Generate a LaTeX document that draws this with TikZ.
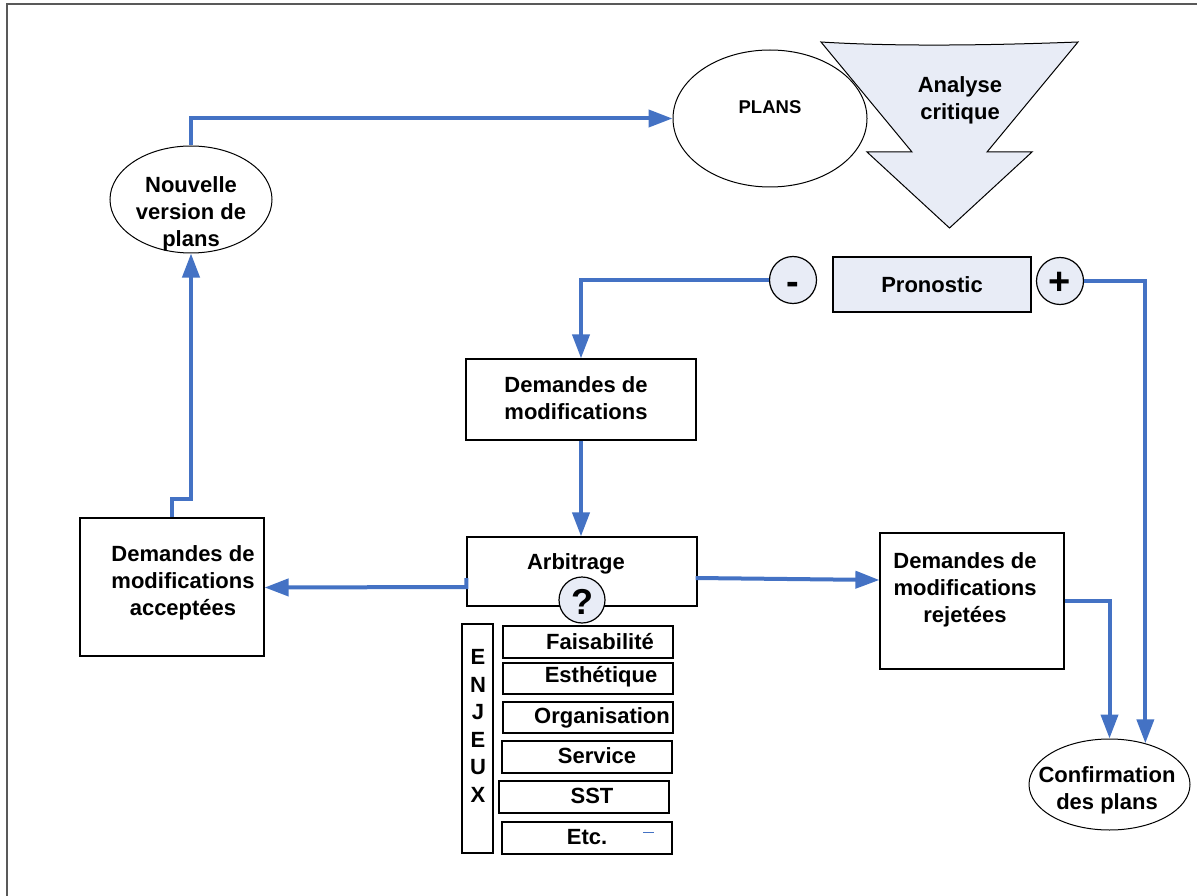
\documentclass[tikz,border=0pt]{standalone}
\usepackage{fontspec}
\setmainfont{Liberation Sans}
\usetikzlibrary{arrows.meta,shapes.geometric,calc}
\definecolor{lineblue}{RGB}{68,114,196}
\definecolor{paleblue}{RGB}{232,236,246}
\begin{document}
\begin{tikzpicture}[x=1pt,y=-1pt,
  every node/.style={font=\fontsize{22}{26.7}\selectfont\bfseries, inner sep=0pt, align=center},
  box/.style={draw=black, line width=1.2pt, fill=white},
  ell/.style={draw=black, line width=1pt, ellipse, fill=white},
  sign/.style={draw=black, line width=1.2pt, circle, fill=paleblue, minimum size=47pt},
  signtext/.style={font=\fontsize{38}{38}\selectfont\bfseries},
  flow/.style={draw=lineblue, line width=4pt, -{Triangle[length=24pt,width=17pt]}},
  item/.style={box, minimum width=170pt, minimum height=32pt}]
\useasboundingbox (0,0) rectangle (1197,896);
\fill[white] (0,0) rectangle (1197,896);
% frame
\draw[line width=2pt, draw=black!65] (7,896) -- (7,4) -- (1197,4);

% Analyse critique arrow
\draw[fill=paleblue, line width=1pt] (821,42) .. controls (900,47) and (1000,45) .. (1078,42)
  -- (987,152) -- (1032,152) -- (949.5,228) -- (867,152) -- (912,152) -- cycle;
\node (analyse) at (960,100) {Analyse\\critique};

% PLANS ellipse
\node[ell, minimum width=194pt, minimum height=137pt] (plans) at (770,118.5) {};
\node[font=\fontsize{18.5}{20}\selectfont\bfseries] (plansT) at (770,107) {PLANS};

% Nouvelle version de plans
\node[ell, minimum width=162pt, minimum height=107pt] (nouv) at (191,199.5) {};
\node (nouvT) at (191,214) {Nouvelle\\version de\\plans};

% Pronostic row
\node[box, fill=paleblue, minimum width=198pt, minimum height=55pt] (prono) at (932,284.5) {Pronostic};
\node[sign] (minus) at (793,280) {};
\node[signtext] (minusT) at (793,288) {-};
\node[sign] (plus) at (1060,281) {};
\node[signtext] (plusT) at (1060,283) {+};

% Demandes de modifications
\node[box, minimum width=230pt, minimum height=81pt] (dem) at (581,399.5) {};
\node (demT) at (576,398) {Demandes de\\modifications};

% Arbitrage
\node[box, minimum width=230pt, minimum height=69pt] (arb) at (582,571.5) {};
\node (arbT) at (576,564) {Arbitrage};
\node[sign, minimum size=46pt] (quest) at (582,600) {};
\node[font=\fontsize{36}{36}\selectfont\bfseries] (questT) at (582,602) {?};

% Acceptées
\node[box, minimum width=184pt, minimum height=138pt] (acc) at (172,587) {};
\node (accT) at (183,583) {Demandes de\\modifications\\acceptées};

% Rejetées
\node[box, minimum width=184pt, minimum height=136pt] (rej) at (972,601) {};
\node (rejT) at (965,590) {Demandes de\\modifications\\rejetées};

% Confirmation
\node[ell, minimum width=161pt, minimum height=91pt] (conf) at (1109.5,784.5) {};
\node (confT) at (1107,790) {Confirmation\\des plans};

% Enjeux
\node[box, minimum width=31pt, minimum height=229pt] (enj) at (477.5,738.5) {};
\node[font=\fontsize{22}{27.6}\selectfont\bfseries] (enjT) at (478,726) {E\\N\\J\\E\\U\\X};
\node[item] (i1) at (588,642) {};
\node (i1T) at (600,642) {Faisabilité};
\node[item, minimum height=31pt] (i2) at (588,678.5) {};
\node (i2T) at (601,677) {Esthétique};
\node[item, minimum height=31pt] (i3) at (588,717.5) {};
\node (i3T) at (602,718) {Organisation};
\node[item] (i4) at (587,757) {};
\node (i4T) at (597,756) {Service};
\node[item] (i5) at (584,797) {};
\node (i5T) at (592,796) {SST};
\node[item] (i6) at (587,838) {};
\node (i6T) at (587,837) {Etc.};
\coordinate (dashA) at (643,832);
\coordinate (dashB) at (654,832);
\draw[lineblue, line width=1pt] (dashA) -- (dashB);

% connectors
\draw[flow] (nouv.north) |- (plans.west);
\draw[flow] (minus.west) -| (dem.north);
\draw[flow] (plus.east) -| (conf.49);
\draw[flow] (dem.south) -- (dem.south |- arb.north);
\draw[flow] ($(arb.west)+(0,6.5)$) -- ($(arb.west)+(0,15.5)$) -- ($(acc.east)+(0,0.5)$);
\draw[flow] ($(arb.east)+(-2,6.5)$) -- ($(rej.west)+(0,-21)$);
\draw[flow] (rej.east) -| (conf.north);
\draw[flow] (acc.north) -- ++(0,-18) -| (nouv.south);
\end{tikzpicture}
\end{document}
